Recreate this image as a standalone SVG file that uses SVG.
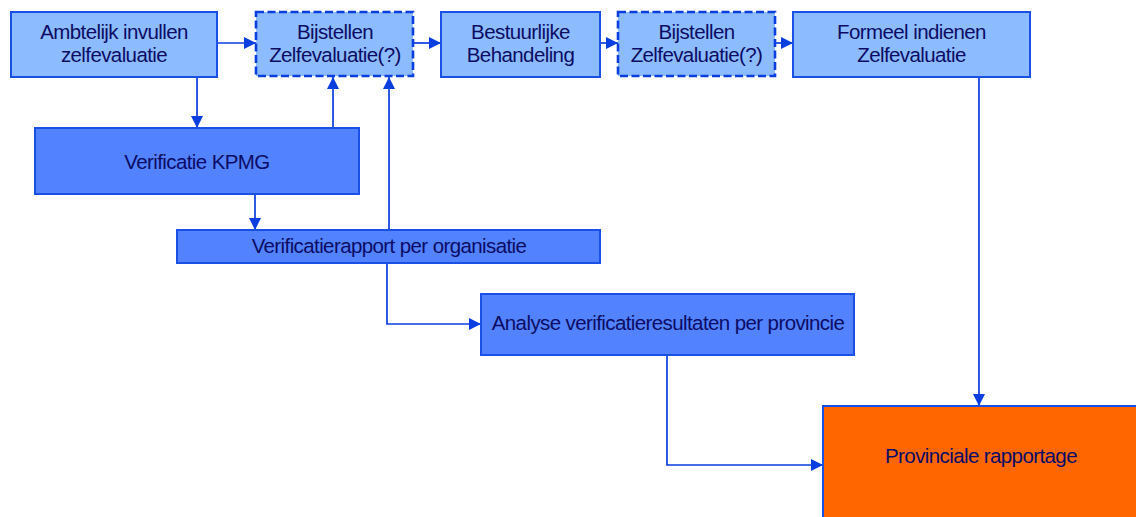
<svg xmlns="http://www.w3.org/2000/svg" width="1136" height="517" viewBox="0 0 1136 517">
<defs>
<marker id="arr" viewBox="0 0 12 12" refX="12" refY="6" markerWidth="12" markerHeight="12" markerUnits="userSpaceOnUse" orient="auto">
<path d="M0,0 L12,6 L0,12 Z" fill="#0a3ee0"/>
</marker>
</defs>
<style>
.light{fill:#8cbbff;stroke:#1a4fe8;stroke-width:2}
.dash{fill:#8cbbff;stroke:#0a3ee0;stroke-width:2.6;stroke-dasharray:8 3.5}
.mid{fill:#5282ff;stroke:#1a4fe8;stroke-width:2}
.orange{fill:#ff6600;stroke:#1a4fe8;stroke-width:2}
text{font-family:"Liberation Sans",Arial,sans-serif;font-size:20.5px;letter-spacing:-0.6px;fill:#0c0c66;text-anchor:middle}
.conn path{fill:none;stroke:#0a3ee0;stroke-width:1.7;marker-end:url(#arr)}
</style>
<rect width="1136" height="517" fill="#ffffff"/>
<g class="conn" id="connectors">
<path d="M217,43 H256"/>
<path d="M413,43 H441"/>
<path d="M600,43 H618"/>
<path d="M775,43 H793"/>
<path d="M197,77 V128"/>
<path d="M333,128 V77"/>
<path d="M389,230 V77"/>
<path d="M255,194 V230"/>
<path d="M387,263 V324 H481"/>
<path d="M979,77 V406"/>
<path d="M667,355 V465 H823"/>
</g>
<g id="n1"><rect class="light" x="11" y="12" width="206" height="65"/><text x="114" y="39">Ambtelijk invullen</text><text x="114" y="62">zelfevaluatie</text></g>
<g id="n2"><rect class="dash" x="256" y="12" width="157" height="64"/><text x="335" y="39">Bijstellen</text><text x="335" y="62">Zelfevaluatie(?)</text></g>
<g id="n3"><rect class="light" x="441" y="12" width="159" height="65"/><text x="520.5" y="39">Bestuurlijke</text><text x="520.5" y="62">Behandeling</text></g>
<g id="n4"><rect class="dash" x="618" y="12" width="157" height="64"/><text x="696.5" y="39">Bijstellen</text><text x="696.5" y="62">Zelfevaluatie(?)</text></g>
<g id="n5"><rect class="light" x="793" y="12" width="237" height="65"/><text x="911.5" y="39">Formeel indienen</text><text x="911.5" y="62">Zelfevaluatie</text></g>
<g id="n6"><rect class="mid" x="35" y="128" width="324" height="66"/><text x="197" y="169">Verificatie KPMG</text></g>
<g id="n7"><rect class="mid" x="177" y="230" width="423" height="33"/><text x="389" y="253">Verificatierapport per organisatie</text></g>
<g id="n8"><rect class="mid" x="481" y="294" width="373" height="61"/><text x="668" y="330">Analyse verificatieresultaten per provincie</text></g>
<g id="n9"><rect class="orange" x="823" y="406" width="320" height="120"/><text x="981" y="463">Provinciale rapportage</text></g>
</svg>
